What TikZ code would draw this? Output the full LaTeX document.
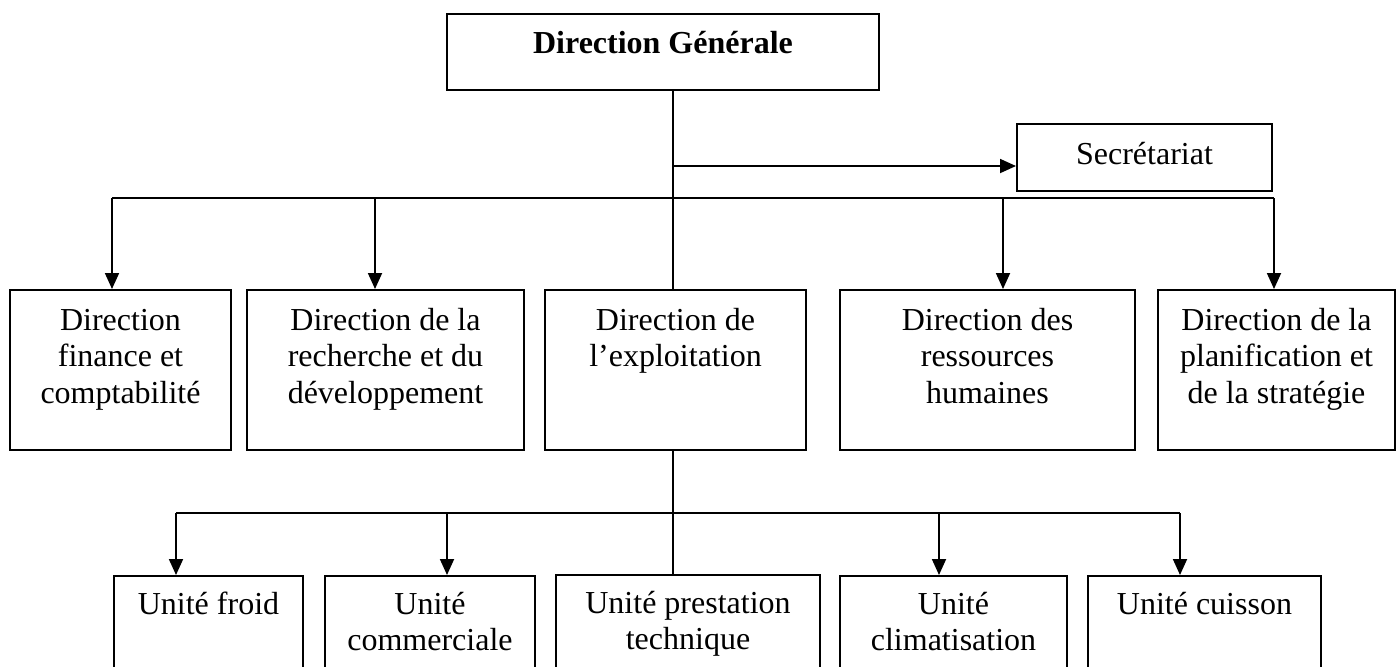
\documentclass[tikz,border=0pt]{standalone}
\usepackage{fontspec}
\setmainfont{Liberation Serif}
\usetikzlibrary{arrows.meta}
\begin{document}
\begin{tikzpicture}[x=0.5pt, y=-0.5pt,
  box/.style={draw, line width=1pt, inner sep=0pt},
  txt/.style={anchor=base, inner sep=0pt, font=\fontsize{16pt}{18.4pt}\selectfont},
  link/.style={line width=0.9pt},
  arr/.style={link, -{Triangle[length=8pt, width=7pt]}},
]
\useasboundingbox (0,0) rectangle (1397,666);
\clip (0,0) rectangle (1397,666);

% top level
\node[box, minimum width=216pt, minimum height=38pt] (dg) at (663,52) {};
\node[box, minimum width=127.5pt, minimum height=33.5pt] (sec) at (1144.5,157.5) {};

% directions
\node[box, minimum width=110.5pt, minimum height=80pt] (b1) at (120.5,370) {};
\node[box, minimum width=138.5pt, minimum height=80pt] (b2) at (385.5,370) {};
\node[box, minimum width=130.5pt, minimum height=80pt] (b3) at (675.5,370) {};
\node[box, minimum width=147.5pt, minimum height=80pt] (b4) at (987.5,370) {};
\node[box, minimum width=118.5pt, minimum height=80pt] (b5) at (1276.5,370) {};

% units (run past the lower edge)
\node[box, minimum width=94.5pt, minimum height=60pt] (u1) at (208.5,636) {};
\node[box, minimum width=105pt, minimum height=60pt] (u2) at (430,636) {};
\node[box, minimum width=132pt, minimum height=60pt] (u3) at (688,635) {};
\node[box, minimum width=113.5pt, minimum height=60pt] (u4) at (953.5,636) {};
\node[box, minimum width=116.5pt, minimum height=60pt] (u5) at (1204.5,636) {};

% labels
\newcommand\lines[1]{\parbox[t]{170pt}{\centering #1}}
\node[txt] (tdg) at ([yshift=-20pt]dg.north) {\lines{\textbf{Direction Générale}}};
\node[txt] (tsec) at ([yshift=-20.5pt]sec.north) {\lines{Secrétariat}};
\node[txt] (tb1) at ([yshift=-20.5pt]b1.north) {\lines{Direction\\finance et\\comptabilité}};
\node[txt] (tb2) at ([yshift=-20.5pt]b2.north) {\lines{Direction de la\\recherche et du\\développement}};
\node[txt] (tb3) at ([yshift=-20.5pt]b3.north) {\lines{Direction de\\l’exploitation}};
\node[txt] (tb4) at ([yshift=-20.5pt]b4.north) {\lines{Direction des\\ressources\\humaines}};
\node[txt] (tb5) at ([yshift=-20.5pt]b5.north) {\lines{Direction de la\\planification et\\de la stratégie}};
\node[txt] (tu1) at ([yshift=-19.5pt]u1.north) {\lines{Unité froid}};
\node[txt] (tu2) at ([yshift=-19.5pt]u2.north) {\lines{Unité\\commerciale}};
\node[txt] (tu3) at ([yshift=-19.5pt]u3.north) {\lines{Unité prestation\\technique}};
\node[txt] (tu4) at ([yshift=-19.5pt]u4.north) {\lines{Unité\\climatisation}};
\node[txt] (tu5) at ([yshift=-19.5pt]u5.north) {\lines{Unité cuisson}};

% junction points
\coordinate (spine) at (673,0);
\coordinate (k1) at (112,198);
\coordinate (k2) at (375,198);
\coordinate (k4) at (1003,198);
\coordinate (k5) at (1274,198);
\coordinate (m1) at (176,513);
\coordinate (m2) at (447,513);
\coordinate (m4) at (939,513);
\coordinate (m5) at (1180,513);

% connectors: general direction
\draw[link] (dg.south -| spine) -- (b3.north -| spine);
\draw[arr] ([yshift=-4.25pt]sec.west -| spine) -- ([yshift=-4.25pt]sec.west);
\draw[link] (k1) -- (k5);
\draw[arr] (k1) -- (k1 |- b1.north);
\draw[arr] (k2) -- (k2 |- b2.north);
\draw[arr] (k4) -- (k4 |- b4.north);
\draw[arr] (k5) -- (k5 |- b5.north);

% connectors: exploitation
\draw[link] (b3.south -| spine) -- (u3.north -| spine);
\draw[link] (m1) -- (m5);
\draw[arr] (m1) -- (m1 |- u1.north);
\draw[arr] (m2) -- (m2 |- u2.north);
\draw[arr] (m4) -- (m4 |- u4.north);
\draw[arr] (m5) -- (m5 |- u5.north);
\end{tikzpicture}
\end{document}
